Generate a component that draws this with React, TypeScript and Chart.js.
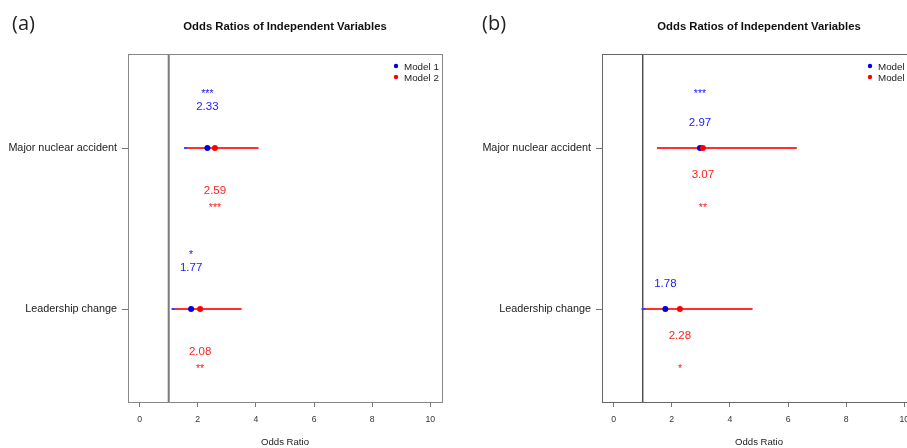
import React, { useEffect, useRef } from "react";
import { Chart, registerables } from "chart.js";

Chart.register(...registerables);

// ---------- data ----------
const CATEGORIES = ["Leadership change", "Major nuclear accident"];
const X_TICKS = [0, 2, 4, 6, 8, 10];
const REF_VALUE = 1;
const TITLE = "Odds Ratios of Independent Variables";
const X_LABEL = "Odds Ratio";

// panel (a)
const A_MODEL1_OR = [1.77, 2.33];
const A_MODEL1_LO = [1.1, 1.53];
const A_MODEL1_HI = [2.85, 3.55];
const A_MODEL1_SIG = ["*", "***"];
const A_MODEL2_OR = [2.08, 2.59];
const A_MODEL2_LO = [1.21, 1.63];
const A_MODEL2_HI = [3.51, 4.09];
const A_MODEL2_SIG = ["**", "***"];

// panel (b)
const B_MODEL3_OR = [1.78, 2.97];
const B_MODEL3_LO = [0.96, 1.55];
const B_MODEL3_HI = [3.3, 5.6];
const B_MODEL3_SIG = ["", "***"];
const B_MODEL4_OR = [2.28, 3.07];
const B_MODEL4_LO = [1.09, 1.49];
const B_MODEL4_HI = [4.78, 6.3];
const B_MODEL4_SIG = ["*", "**"];

// ---------- styles ----------
const FONT = "'Liberation Sans', Arial, sans-serif";
const BLUE_PT = "#0000e0";
const BLUE_LINE = "#3a3aff";
const BLUE_TXT = "#2020ff";
const RED_PT = "#ff0000";
const RED_LINE = "#ff3030";
const RED_TXT = "#ff2020";

type Model = {
  name: string;
  or: number[];
  lo: number[];
  hi: number[];
  sig: string[];
  pt: string;
  line: string;
  txt: string;
  above: boolean;
};

type PanelCfg = {
  letter: string;
  letterX: number;
  left: number;
  models: Model[];
  valueOff: number;
  starOff: number;
  boxColor: string;
  refColor: string;
  refWidth: number;
};

const PANELS: PanelCfg[] = [
  {
    letter: "(a)",
    letterX: 12,
    left: 0,
    valueOff: 42,
    starOff: 57,
    boxColor: "#888888",
    refColor: "#7a7a7a",
    refWidth: 2,
    models: [
      { name: "Model 1", or: A_MODEL1_OR, lo: A_MODEL1_LO, hi: A_MODEL1_HI, sig: A_MODEL1_SIG, pt: BLUE_PT, line: BLUE_LINE, txt: BLUE_TXT, above: true },
      { name: "Model 2", or: A_MODEL2_OR, lo: A_MODEL2_LO, hi: A_MODEL2_HI, sig: A_MODEL2_SIG, pt: RED_PT, line: RED_LINE, txt: RED_TXT, above: false },
    ],
  },
  {
    letter: "(b)",
    letterX: 8,
    left: 474,
    valueOff: 26,
    starOff: 57,
    boxColor: "#666666",
    refColor: "#505050",
    refWidth: 1.5,
    models: [
      { name: "Model 3", or: B_MODEL3_OR, lo: B_MODEL3_LO, hi: B_MODEL3_HI, sig: B_MODEL3_SIG, pt: BLUE_PT, line: BLUE_LINE, txt: BLUE_TXT, above: true },
      { name: "Model 4", or: B_MODEL4_OR, lo: B_MODEL4_LO, hi: B_MODEL4_HI, sig: B_MODEL4_SIG, pt: RED_PT, line: RED_LINE, txt: RED_TXT, above: false },
    ],
  },
];

function makePlugin(cfg: PanelCfg) {
  return {
    id: "annotate",
    beforeDatasetsDraw(chart: any) {
      const { ctx, chartArea: a, scales } = chart;
      const x = scales.x;
      ctx.save();
      // reference line
      const rx = x.getPixelForValue(REF_VALUE);
      ctx.strokeStyle = cfg.refColor;
      ctx.lineWidth = cfg.refWidth;
      ctx.beginPath();
      ctx.moveTo(rx, a.top);
      ctx.lineTo(rx, a.bottom);
      ctx.stroke();
      // box
      ctx.strokeStyle = cfg.boxColor;
      ctx.lineWidth = 1;
      ctx.strokeRect(
        Math.round(a.left) + 0.5,
        Math.round(a.top) + 0.5,
        Math.round(a.right - a.left),
        Math.round(a.bottom - a.top)
      );
      ctx.restore();
    },
    afterDatasetsDraw(chart: any) {
      const { ctx, chartArea: a, scales } = chart;
      const x = scales.x;
      const y = scales.y;
      ctx.save();
      ctx.textAlign = "center";
      ctx.textBaseline = "alphabetic";
      const vfs = 11.5;
      const sfs = 10.5;
      cfg.models.forEach((m) => {
        m.or.forEach((v, i) => {
          const px = x.getPixelForValue(v);
          const py = y.getPixelForValue(i + 1);
          const dir = m.above ? -1 : 1;
          const vy = py + dir * cfg.valueOff;
          const sy = py + dir * cfg.starOff;
          ctx.fillStyle = m.txt;
          ctx.font = `${vfs}px ${FONT}`;
          ctx.fillText(v.toFixed(2), px, vy + 0.36 * vfs);
          if (m.sig[i]) {
            ctx.font = `${sfs}px ${FONT}`;
            ctx.fillText(m.sig[i], px, sy + 0.58 * sfs);
          }
        });
      });
      // legend
      const lfs = 9.8;
      ctx.textAlign = "left";
      cfg.models.forEach((m, k) => {
        const ly = a.top + 12 + k * 11;
        ctx.fillStyle = m.pt;
        ctx.beginPath();
        ctx.arc(a.right - 46, ly, 2.2, 0, Math.PI * 2);
        ctx.fill();
        ctx.fillStyle = "#222";
        ctx.font = `${lfs}px ${FONT}`;
        ctx.fillText(m.name, a.right - 38, ly + 0.36 * lfs);
      });
      // title
      ctx.textAlign = "center";
      ctx.fillStyle = "#111";
      ctx.font = `bold 11.3px ${FONT}`;
      ctx.fillText(TITLE, (a.left + a.right) / 2, 26 + 0.36 * 11.3);
      // panel letter
      ctx.textAlign = "left";
      ctx.fillStyle = "#222";
      ctx.font = `20px 'Open Sans', sans-serif`;
      ctx.fillText(cfg.letter, cfg.letterX, 30);
      ctx.restore();
    },
  };
}

function Panel({ cfg }: { cfg: PanelCfg }) {
  const ref = useRef<HTMLCanvasElement>(null);
  useEffect(() => {
    const datasets: any[] = [];
    const rev = [...cfg.models].reverse();
    rev.forEach((m) => {
      datasets.push({
        label: m.name,
        data: m.or.map((v, i) => ({ x: v, y: i + 1 })),
        pointRadius: 3,
        pointBackgroundColor: m.pt,
        pointBorderWidth: 0,
        showLine: false,
      });
    });
    rev.forEach((m) => {
      m.lo.forEach((lo, i) => {
        datasets.push({
          label: m.name + " CI",
          data: [
            { x: lo, y: i + 1 },
            { x: m.hi[i], y: i + 1 },
          ],
          showLine: true,
          borderColor: m.line,
          borderWidth: 2,
          pointRadius: 0,
        });
      });
    });
    const chart = new Chart(ref.current as HTMLCanvasElement, {
      type: "scatter",
      data: { datasets },
      plugins: [makePlugin(cfg)],
      options: {
        responsive: false,
        animation: false,
        events: [],
        layout: { padding: { top: 54, right: 32, bottom: 0, left: 0 } },
        plugins: {
          legend: { display: false },
          tooltip: { enabled: false },
          title: { display: false },
        },
        scales: {
          x: {
            type: "linear",
            min: -0.4,
            max: 10.4,
            afterBuildTicks: (s: any) => {
              s.ticks = X_TICKS.map((v) => ({ value: v }));
            },
            afterFit: (s: any) => {
              s.height = 46;
            },
            grid: {
              drawOnChartArea: false,
              drawTicks: true,
              tickLength: 5,
              tickColor: "#777",
              tickWidth: 1,
            },
            border: { display: false },
            ticks: {
              font: { family: FONT, size: 8.7 },
              color: "#333",
              padding: 7,
              maxRotation: 0,
            },
            title: {
              display: true,
              text: X_LABEL,
              font: { family: FONT, size: 9.6 },
              color: "#222",
              padding: { top: 0, bottom: 0 },
            },
          },
          y: {
            type: "linear",
            min: 0.4224,
            max: 2.5839,
            afterBuildTicks: (s: any) => {
              s.ticks = CATEGORIES.map((_, i) => ({ value: i + 1 }));
            },
            afterFit: (s: any) => {
              s.width = 128;
            },
            grid: {
              drawOnChartArea: false,
              drawTicks: true,
              tickLength: 6,
              tickColor: "#777",
              tickWidth: 1,
            },
            border: { display: false },
            ticks: {
              font: { family: FONT, size: 10.8 },
              color: "#222",
              padding: 5,
              callback: (v: any) => CATEGORIES[Math.round(v) - 1] ?? "",
            },
          },
        },
      } as any,
    });
    return () => chart.destroy();
  }, [cfg]);
  return (
    <canvas
      ref={ref}
      width={474}
      height={448}
      style={{ position: "absolute", left: cfg.left, top: 0, width: 474, height: 448 }}
    />
  );
}

export default function App() {
  return (
    <div
      style={{
        position: "fixed",
        left: 0,
        top: 0,
        width: 907,
        height: 448,
        overflow: "hidden",
        background: "#fff",
      }}
    >
      {PANELS.map((p) => (
        <Panel key={p.letter} cfg={p} />
      ))}
    </div>
  );
}
